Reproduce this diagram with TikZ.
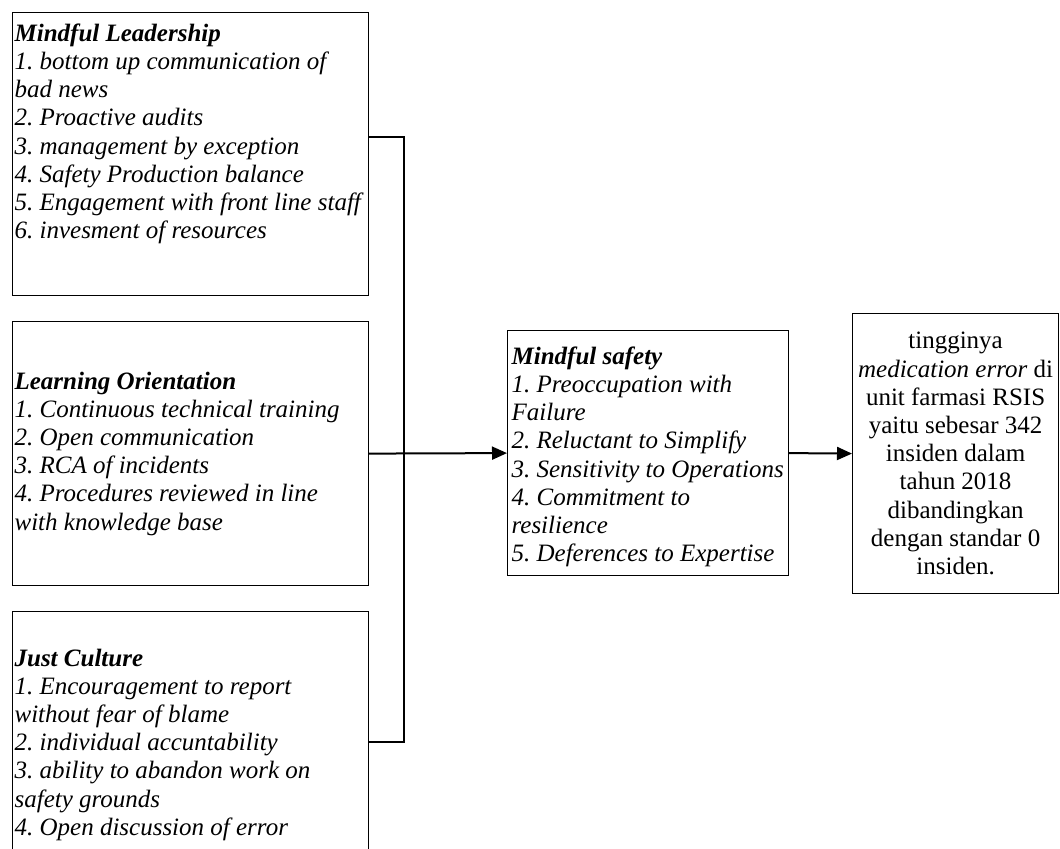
\documentclass[tikz,border=0pt]{standalone}
\usepackage{fontspec}
\setmainfont{Liberation Serif}
\usetikzlibrary{arrows.meta}

\newcommand{\boxfont}{\fontsize{12.5}{14.1}\selectfont\frenchspacing}

\begin{document}
\begin{tikzpicture}[x=0.5pt, y=-0.5pt,
          box/.style={draw, line width=0.6pt, anchor=north west, inner xsep=1pt, inner ysep=0pt},
          link/.style={line width=1pt},
          arrow/.style={link, -{Triangle[length=7.5pt, width=6.5pt]}}
        ]
        \clip (0,0) rectangle (1060,849);

        % left column
        \node[box] (lead) at (12,12) {\parbox[c][141.5pt][t]{176pt}{\boxfont\raggedright\itshape
            \vspace*{5.6pt}\textbf{Mindful Leadership}\\
            1. bottom up communication of\\ bad news\\
            2. Proactive audits\\
            3. management by exception\\
            4. Safety Production balance\\
            5. Engagement with front line staff\\
            6. invesment of resources}};

        \node[box] (learn) at (12,321) {\parbox[c][132pt][c]{176pt}{\boxfont\raggedright\itshape
            \textbf{Learning Orientation}\\
            1. Continuous technical training\\
            2. Open communication\\
            3. RCA of incidents\\
            4. Procedures reviewed in line\\ with knowledge base}};

        \node[box] (culture) at (12,611) {\parbox[c][144.5pt][t]{176pt}{\boxfont\raggedright\itshape
            \vspace*{18.6pt}\textbf{Just Culture}\\
            1. Encouragement to report\\ without fear of blame\\
            2. individual accuntability\\
            3. ability to abandon work on\\ safety grounds\\
            4. Open discussion of error}};

        % middle and right
        \node[box, inner xsep=2pt] (safety) at (507,330) {\parbox[c][122.5pt][t]{136.5pt}{\boxfont\raggedright\itshape
            \vspace*{8.1pt}\textbf{Mindful safety}\\
            1. Preoccupation with\\ Failure\\
            2. Reluctant to Simplify\\
            3. Sensitivity to Operations\\
            4. Commitment to\\ resilience\\
            5. Deferences to Expertise}};

        \node[box, inner xsep=1.5pt] (result) at (852,313) {\parbox[c][140pt][c]{100pt}{\boxfont\centering
            tingginya\\
            \textit{medication error} di\\
            unit farmasi RSIS\\
            yaitu sebesar 342\\
            insiden dalam\\
            tahun 2018\\
            dibandingkan\\
            dengan standar 0\\
            insiden.}};

        \coordinate (bus top) at (404,137);
        \coordinate (bus bot) at (404,742);

        \draw[link] (lead.east |- bus top) -- (bus top) -- (bus bot) -- (culture.east |- bus bot);
        \draw[arrow] (learn.east) -- (safety.west);
        \draw[arrow] (safety.east) -- (result.west);

        \end{tikzpicture}
\end{document}
